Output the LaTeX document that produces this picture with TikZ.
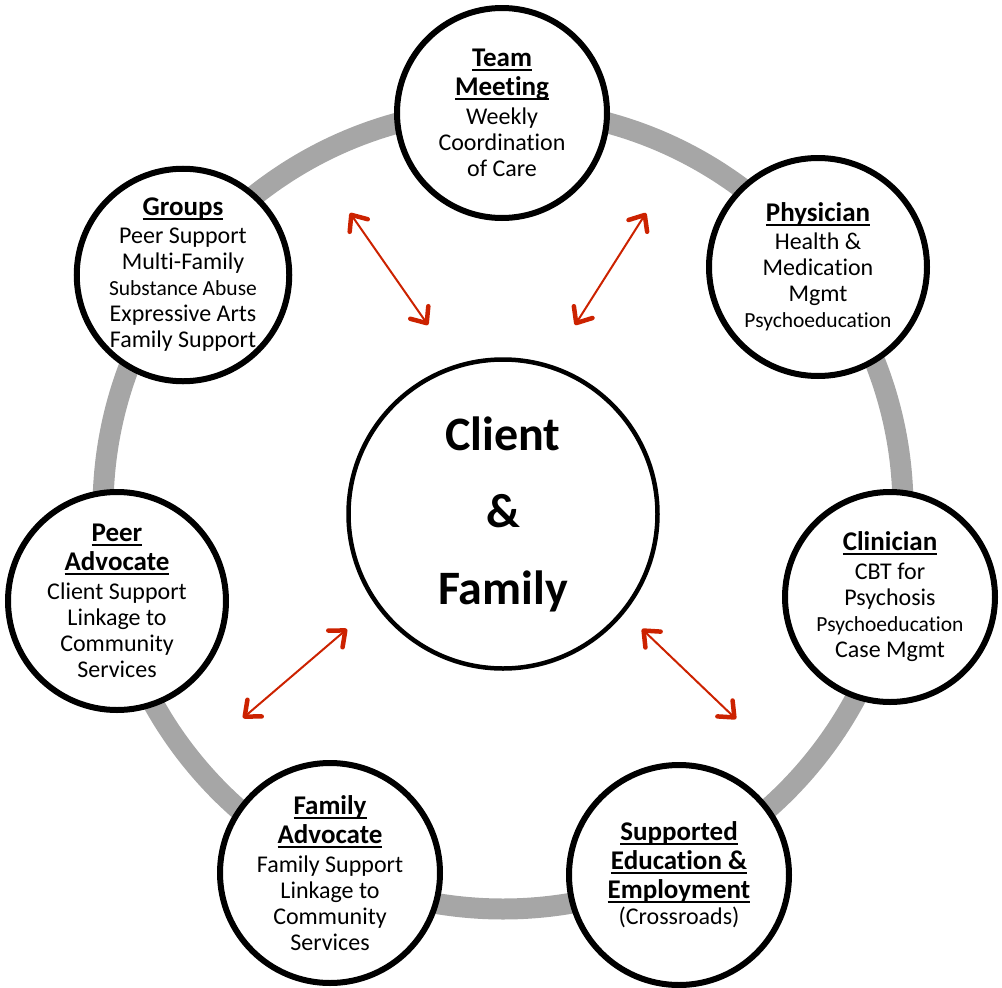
\documentclass[tikz,border=0pt]{standalone}
\usepackage{fontspec}
\setmainfont{Carlito}[Ligatures=NoCommon]
\usetikzlibrary{arrows.meta}
\definecolor{ringgray}{RGB}{166,166,166}
\definecolor{linkred}{RGB}{204,34,0}
\newcommand{\ttl}[1]{{\fontsize{27}{29}\selectfont\bfseries
  \setbox0\hbox{#1}\rlap{\rule[-4.5pt]{\wd0}{2pt}}\box0}}
\newcommand{\sml}[1]{{\fontsize{21.5}{26}\selectfont #1}}

\begin{document}
\begin{tikzpicture}
        [
            x=1pt, y=-1pt,
            hub/.style={circle, draw, line width=4.5pt, fill=white,
                        minimum size=309pt, inner sep=0pt, align=center,
                        font=\fontsize{48}{77}\selectfont\bfseries},
            spoke/.style={circle, draw, line width=6pt, fill=white,
                          minimum size=#1, inner sep=0pt, align=center,
                          font=\fontsize{24}{26}\selectfont},
            spoke/.default=214pt,
            link/.style={<->, >={Straight Barb[length=13pt, width=22pt,
                         line width=4.5pt, round]}, line width=2pt, draw=linkred}
        ]
        \useasboundingbox (0,0) rectangle (1002,988);
        \draw [ringgray, line width=21pt] (503,509) circle [radius=400];
        \node (client) [hub] at (503,514) {Client\\\&\\Family};
        \node (team) [spoke=210pt] at (502,113)
            {\ttl{Team}\\[3pt]\ttl{Meeting}\\[3pt]Weekly\\Coordination\\of Care};
        \node (phys) [spoke=218pt] at (818,267)
            {\ttl{Physician}\\[2pt]Health \&\\Medication\\Mgmt\\\sml{Psychoeducation}};
        \node (clin) [spoke=210pt] at (890,597)
            {\ttl{Clinician}\\[3pt]CBT for\\Psychosis\\\sml{Psychoeducation}\\Case Mgmt};
        \node (educ) [spoke=220pt] at (679,875)
            {\ttl{Supported}\\[3pt]\ttl{Education \&}\\[3pt]\ttl{Employment}\\(Crossroads)};
        \node (famadv) [spoke=220pt] at (330,873)
            {\ttl{Family}\\[3pt]\ttl{Advocate}\\[3pt]Family Support\\Linkage to\\Community\\Services};
        \node (peeradv) [spoke=218pt] at (117,601)
            {\ttl{Peer}\\[3pt]\ttl{Advocate}\\[3pt]Client Support\\Linkage to\\Community\\Services};
        \node (groups) [spoke=194pt] at (183,275)
            {\ttl{Groups}\\[2pt]Peer Support\\Multi-Family\\\sml{Substance Abuse}\\Expressive Arts\\Family Support};
        \coordinate (ulo) at (350,213);
        \coordinate (uli) at (428,325);
        \coordinate (uro) at (646,213);
        \coordinate (uri) at (575,325);
        \coordinate (llo) at (243,718);
        \coordinate (lli) at (347,629);
        \coordinate (lro) at (736,719);
        \coordinate (lri) at (642,629);
        \foreach \i/\j in {ulo/uli,uro/uri,llo/lli,lro/lri}
            \draw [link] (\i) -- (\j);
    \end{tikzpicture}
\end{document}
